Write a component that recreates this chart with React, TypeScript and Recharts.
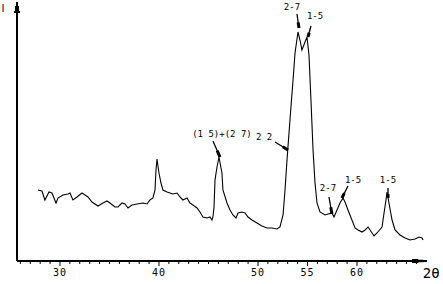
import React from "react";
import { LineChart, Line, XAxis, YAxis, ReferenceLine, ReferenceDot } from "recharts";

// 2θ (degrees)
const twoTheta = [
  27.78, 28.18, 28.48, 28.89, 29.19, 29.6, 29.8, 30.3, 30.81, 31.01, 31.31, 31.72, 32.22, 32.53, 32.83,
  33.23, 33.84, 34.34, 34.75, 35.05, 35.56, 35.86, 36.26, 36.57, 36.87, 37.27, 37.78, 38.38, 38.79, 39.09,
  39.39, 39.6, 39.7, 39.8, 40.0, 40.2, 40.4, 40.81, 41.11, 41.41, 41.82, 42.12, 42.42, 42.83, 43.13,
  43.43, 43.84, 44.14, 44.44, 44.85, 45.15, 45.35, 45.45, 45.56, 45.66, 45.86, 46.06, 46.36, 46.46, 46.87,
  47.17, 47.47, 47.78, 47.98, 48.38, 48.69, 48.99, 49.39, 49.9, 50.4, 50.91, 51.41, 51.92, 52.22, 52.53,
  52.73, 52.93, 53.23, 53.54, 53.74, 54.04, 54.24, 54.44, 54.75, 54.95, 55.15, 55.35, 55.56, 55.76, 55.96,
  56.26, 56.77, 57.07, 57.47, 57.68, 57.98, 58.28, 58.59, 58.79, 59.09, 59.49, 59.8, 60.1, 60.51, 60.81,
  61.11, 61.52, 61.72, 62.02, 62.53, 62.73, 62.93, 63.03, 63.23, 63.54, 63.84, 64.34, 64.85, 65.35, 65.86,
  66.26, 66.57, 66.67,
];

// intensity (arbitrary units)
const intensity = [
  71, 70, 61, 69, 68, 58, 63, 66, 67, 68, 61, 64, 68, 66, 64,
  59, 55, 58, 60, 58, 54, 54, 58, 57, 53, 56, 57, 58, 57, 61,
  63, 71, 91, 102, 88, 78, 71, 69, 68, 67, 68, 64, 61, 63, 58,
  56, 53, 49, 44, 43, 44, 41, 44, 54, 81, 94, 104, 88, 71, 58,
  51, 46, 43, 48, 49, 48, 44, 41, 38, 35, 33, 33, 32, 34, 46,
  71, 101, 141, 181, 208, 229, 221, 211, 219, 224, 206, 161, 111, 78, 58,
  49, 46, 47, 48, 44, 51, 58, 63, 59, 51, 41, 33, 31, 29, 31,
  34, 28, 25, 28, 34, 48, 61, 69, 58, 41, 31, 26, 23, 21, 22,
  24, 23, 21,
];

// x-axis ticks
const minorTicks = Array.from({ length: 41 }, (_, i) => 26 + i);
const labeledTicks = [30, 40, 50, 55, 60];

// peak annotations: label, label position, arrow from -> to (data coords)
const annoLabels = ["2-7", "1-5", "(1 5)+(2 7)", "2 2", "2-7", "1-5", "1-5"];
const annoTextTheta = [53.43, 55.76, 46.36, 50.61, 57.07, 59.6, 63.13];
const annoTextI = [254, 245, 127, 124, 73, 81, 81];
const arrowFromTheta = [53.94, 55.35, 45.45, 51.72, 57.17, 59.09, 63.13];
const arrowFromI = [247, 235, 120, 119, 64, 75, 73];
const arrowToTheta = [54.14, 55.05, 46.16, 53.03, 57.47, 58.48, 63.13];
const arrowToI = [233, 224, 104, 111, 47, 63, 63];

const data = twoTheta.map((t, i) => ({ t, v: intensity[i] }));

const X_MIN = 25.66;
const X_MAX = 67.07;
const Y_MAX = 259;

const FONT = "DejaVu Sans Mono";

const Tick = (props: any) => {
  const { x, y, payload } = props;
  const v = payload.value;
  const lab = labeledTicks.includes(v);
  return (
    <g>
      <line x1={x} x2={x} y1={y} y2={y + (lab ? 5 : 3)} stroke="#000" strokeWidth={1} />
      {lab && (
        <text x={x} y={y + 15} textAnchor="middle" fontSize={10} fontFamily={FONT} letterSpacing={1} fill="#000">
          {v}
        </text>
      )}
    </g>
  );
};

export default function App() {
  return (
    <div style={{ position: "absolute", left: 0, top: 0, background: "#fff" }}>
      <LineChart
        width={443}
        height={284}
        data={data}
        margin={{ top: 2, right: 16, bottom: 0, left: 17 }}
      >
        <XAxis
          dataKey="t"
          type="number"
          domain={[X_MIN, X_MAX]}
          ticks={minorTicks}
          interval={0}
          tickSize={0}
          tickMargin={0}
          tickLine={false}
          tick={<Tick />}
          height={23}
          axisLine={{ stroke: "#000", strokeWidth: 2 }}
          allowDataOverflow
        />
        <YAxis type="number" domain={[0, Y_MAX]} hide allowDataOverflow />
        {/* y axis line */}
        <ReferenceLine
          segment={[{ x: X_MIN, y: 0 }, { x: X_MIN, y: Y_MAX }]}
          stroke="#000"
          strokeWidth={2}
          ifOverflow="visible"
        />
        <Line
          dataKey="v"
          type="linear"
          stroke="#000"
          strokeWidth={1.1}
          dot={false}
          isAnimationActive={false}
        />
        {/* axis arrowheads */}
        <ReferenceLine
          segment={[{ x: X_MIN, y: 248 }, { x: X_MIN, y: 255 }]}
          stroke="#000"
          strokeWidth={4}
          ifOverflow="visible"
        />
        <ReferenceLine
          segment={[{ x: X_MIN, y: 248 }, { x: X_MIN, y: 250 }]}
          stroke="#000"
          strokeWidth={6}
          ifOverflow="visible"
        />
        <ReferenceLine
          segment={[{ x: 65.56, y: 0 }, { x: 66.2, y: 0 }]}
          stroke="#000"
          strokeWidth={4}
          ifOverflow="visible"
        />
        <ReferenceLine
          segment={[{ x: 66.2, y: 0 }, { x: 66.7, y: 0 }]}
          stroke="#000"
          strokeWidth={2.5}
          ifOverflow="visible"
        />
        {/* axis titles */}
        <ReferenceDot
          x={24.24}
          y={252.5}
          r={0}
          fill="none"
          stroke="none"
          ifOverflow="visible"
          label={{ value: "I", position: "center", fontSize: 10, fontFamily: "DejaVu Sans", fill: "#000" }}
        />
        <ReferenceDot
          x={67.5}
          y={-12}
          r={0}
          fill="none"
          stroke="none"
          ifOverflow="visible"
          label={{ value: "2θ", position: "center", fontSize: 14, fontFamily: "DejaVu Sans Mono", fill: "#000" }}
        />
        {/* annotations */}
        {annoLabels.map((lab, i) => (
          <ReferenceLine
            key={"a" + i}
            segment={[
              { x: arrowFromTheta[i], y: arrowFromI[i] },
              { x: arrowToTheta[i], y: arrowToI[i] },
            ]}
            stroke="#000"
            strokeWidth={1.3}
            ifOverflow="visible"
          />
        ))}
        {annoLabels.map((lab, i) => (
          <ReferenceLine
            key={"h" + i}
            segment={[
              {
                x: arrowToTheta[i] + (arrowFromTheta[i] - arrowToTheta[i]) * 0.4,
                y: arrowToI[i] + (arrowFromI[i] - arrowToI[i]) * 0.4,
              },
              { x: arrowToTheta[i], y: arrowToI[i] },
            ]}
            stroke="#000"
            strokeWidth={3}
            ifOverflow="visible"
          />
        ))}
        {annoLabels.map((lab, i) => (
          <ReferenceDot
            key={"t" + i}
            x={annoTextTheta[i]}
            y={annoTextI[i]}
            r={0}
            fill="none"
            stroke="none"
            ifOverflow="visible"
            label={{ value: lab, position: "center", fontSize: 9, fontFamily: FONT, fill: "#000" }}
          />
        ))}
      </LineChart>
    </div>
  );
}
